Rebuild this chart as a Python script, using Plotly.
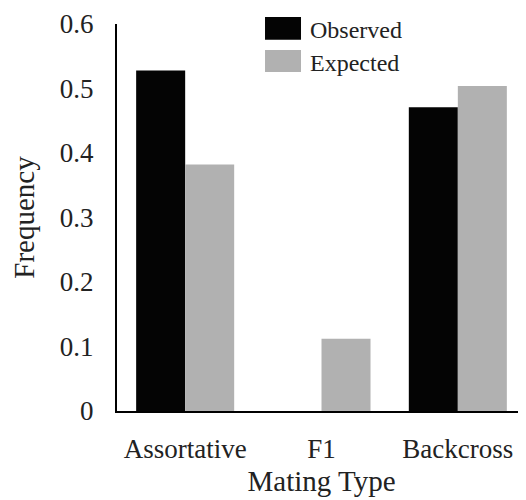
import plotly.graph_objects as go

categories = ["Assortative", "F1", "Backcross"]
observed = [0.528, 0.0, 0.471]
expected = [0.382, 0.112, 0.504]
series_names = ["Observed", "Expected"]
y_ticks = [0, 0.1, 0.2, 0.3, 0.4, 0.5, 0.6]
y_tick_text = ["0", "0.1", "0.2", "0.3", "0.4", "0.5", "0.6"]

BLACK = "#040404"
GREY = "#b1b1b1"
FONT = "Liberation Serif"
TXT = "#222222"

fig = go.Figure()
fig.add_trace(go.Bar(x=categories, y=observed, name=series_names[0],
                     marker=dict(color=BLACK, line=dict(width=0)), showlegend=False))
fig.add_trace(go.Bar(x=categories, y=expected, name=series_names[1],
                     marker=dict(color=GREY, line=dict(width=0)), showlegend=False))

# legend drawn as boxes + text (paper coordinates)
legend_items = [(series_names[0], BLACK, 1.018, 0.959), (series_names[1], GREY, 0.933, 0.876)]
for name, col, y1, y0 in legend_items:
    fig.add_shape(type="rect", xref="paper", yref="paper", x0=0.3619, x1=0.4499,
                  y0=y0, y1=y1, fillcolor=col, line=dict(width=0))
    fig.add_annotation(xref="paper", yref="paper", x=0.466, y=(y0 + y1) / 2 - 0.004,
                       text=name, showarrow=False, xanchor="left", yanchor="middle",
                       font=dict(family=FONT, size=24, color=TXT))

fig.update_layout(
    width=518, height=492,
    margin=dict(l=109, r=0, t=16, b=89),
    paper_bgcolor="white", plot_bgcolor="white",
    barmode="group", bargap=0.281, bargroupgap=0,
    font=dict(family=FONT, color=TXT),
    xaxis=dict(showline=True, linecolor="black", linewidth=2, showgrid=False,
               ticks="", tickfont=dict(size=27, family=FONT, color=TXT),
               ticklabelstandoff=13,
               title=dict(text="Mating Type", font=dict(size=29, family=FONT, color=TXT), standoff=7)),
    yaxis=dict(range=[0, 0.6], showline=True, linecolor="black", linewidth=2, showgrid=False,
               zeroline=False, ticks="", tickvals=y_ticks, ticktext=y_tick_text,
               tickfont=dict(size=27, family=FONT, color=TXT), ticklabelstandoff=16,
               title=dict(text="Frequency", font=dict(size=29, family=FONT, color=TXT), standoff=20)),
)

fig.write_html("out.html")
